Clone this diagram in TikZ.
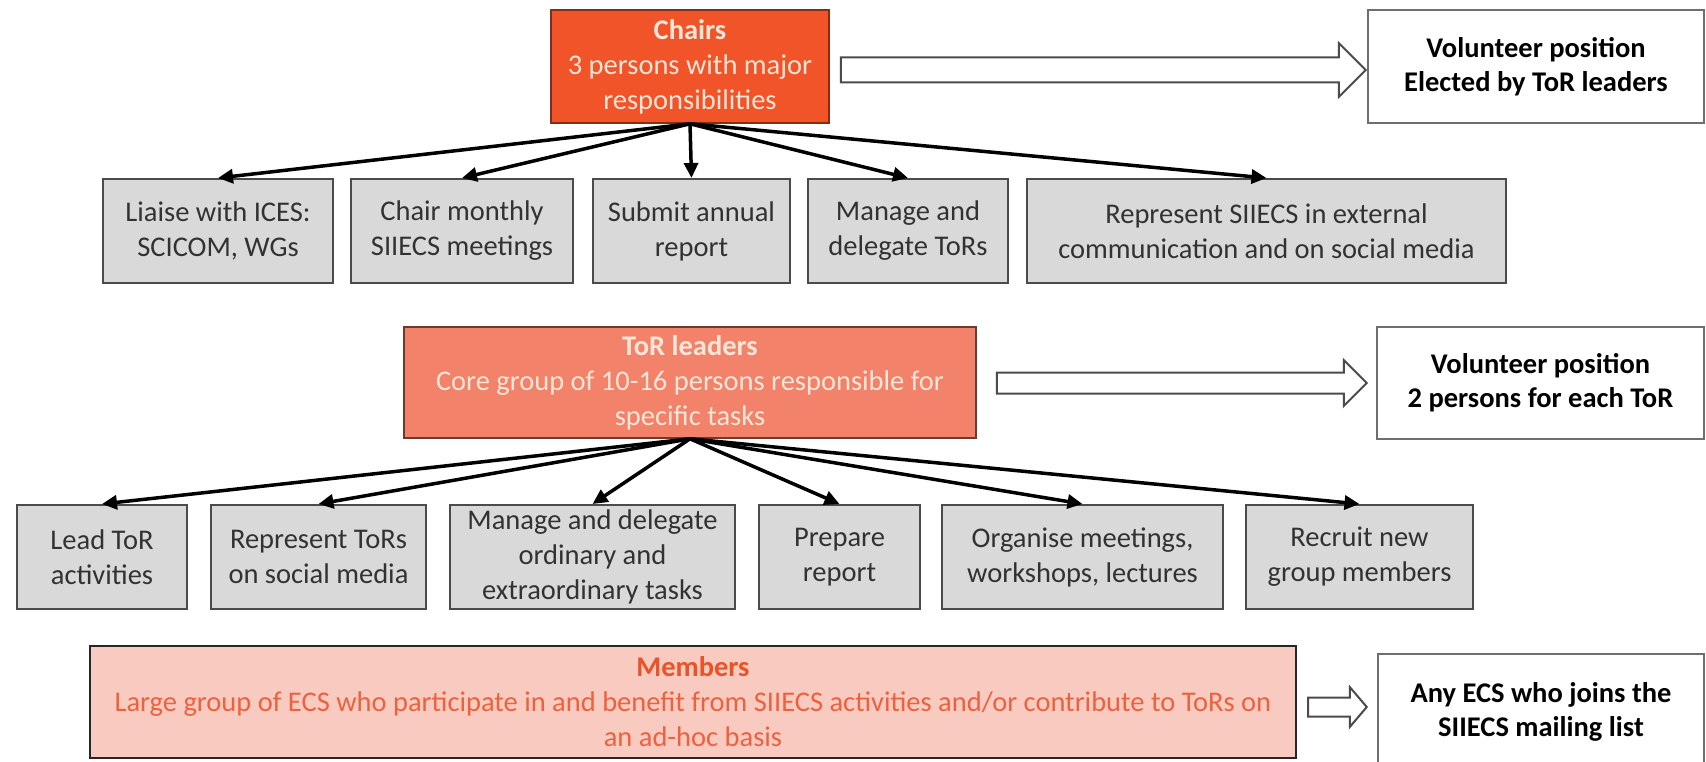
\documentclass[tikz,border=0pt]{standalone}
\usepackage{fontspec}
\setmainfont{Carlito}
\usetikzlibrary{arrows.meta,calc}
\definecolor{chairfill}{RGB}{240,84,40}
\definecolor{torfill}{RGB}{242,130,106}
\definecolor{memfill}{RGB}{248,202,192}
\definecolor{boxgray}{RGB}{217,217,217}
\definecolor{lighttxt}{RGB}{252,230,216}
\definecolor{memtxt}{RGB}{236,98,62}
\definecolor{memtitle}{RGB}{232,84,40}
\definecolor{edgegray}{RGB}{75,75,75}
\definecolor{infoedge}{RGB}{110,110,110}
\definecolor{tasktxt}{RGB}{50,50,50}
\begin{document}
\begin{tikzpicture}[x=1pt,y=-1pt,
  txt/.style={font=\fontsize{28.5}{35}\selectfont, align=center, inner sep=2pt},
  taskbox/.style={txt, draw=edgegray, line width=2pt, fill=boxgray, text=tasktxt, minimum height=104pt},
  rolebox/.style={txt, line width=1.6pt},
  infobox/.style={align=center, inner sep=2pt, draw=infoedge, line width=2.5pt, fill=white, text=black, font=\fontsize{28.5}{34}\selectfont\bfseries},
  link/.style={-{Triangle[length=15pt,width=14pt]}, line width=3.5pt, black},
  blockarr/.style={draw=edgegray, line width=2pt, fill=white, line join=miter}
]
\useasboundingbox (0,0) rectangle (1706,762);

% Chairs level
\node[rolebox, fill=chairfill, draw=chairfill!55!black, text=lighttxt, minimum width=278pt, minimum height=113pt] (chairs) at (690,66.5) {\textbf{Chairs}\\3 persons with major\\responsibilities};
\node[infobox, minimum width=336pt, minimum height=113pt] (vol1) at (1536,66.5) {Volunteer position\\Elected by ToR leaders};

\node[taskbox, minimum width=230pt] (liaise) at (218,231) {Liaise with ICES:\\SCICOM, WGs};
\node[taskbox, minimum width=222pt] (monthly) at (462,231) {Chair monthly\\SIIECS meetings};
\node[taskbox, minimum width=197pt] (annual) at (691.5,231) {Submit annual\\report};
\node[taskbox, minimum width=200pt] (delegate) at (908,231) {Manage and\\delegate ToRs};
\node[taskbox, minimum width=479pt] (external) at (1266.5,231) {Represent SIIECS in external\\communication and on social media};

% ToR level
\node[rolebox, fill=torfill, draw=torfill!45!black, text=lighttxt, minimum width=572pt, minimum height=111pt] (tor) at (690,382.5) {\textbf{ToR leaders}\\Core group of 10-16 persons responsible for\\specific tasks};
\node[infobox, minimum width=327pt, minimum height=112pt] (vol2) at (1540.5,383) {Volunteer position\\2 persons for each ToR};

\node[taskbox, minimum width=170pt] (lead) at (102,557) {Lead ToR\\activities};
\node[taskbox, minimum width=215pt] (reprtor) at (318.5,557) {Represent ToRs\\on social media};
\node[taskbox, minimum width=285pt] (tasks) at (592.5,557) {Manage and delegate\\ordinary and\\extraordinary tasks};
\node[taskbox, minimum width=161pt] (report) at (839.5,557) {Prepare\\report};
\node[taskbox, minimum width=281pt] (events) at (1082.5,557) {Organise meetings,\\workshops, lectures};
\node[taskbox, minimum width=227pt] (recruit) at (1359.5,557) {Recruit new\\group members};

% Members level
\node[rolebox, fill=memfill, draw=black!85, line width=2pt, text=memtxt, minimum width=1206pt, minimum height=112pt] (members) at (693,702) {\textcolor{memtitle}{\textbf{Members}}\\Large group of ECS who participate in and benefit from SIIECS activities and/or contribute to ToRs on\\an ad-hoc basis};
\node[infobox, minimum width=326pt, minimum height=116pt] (anyecs) at (1541,712) {Any ECS who joins the\\SIIECS mailing list};

% connectors
\foreach \t in {liaise,monthly,annual,delegate,external}
  \draw[link] (chairs.south) -- (\t.north);
\foreach \t in {lead,reprtor,tasks,report,events,recruit}
  \draw[link] (tor.south) -- (\t.north);

% block arrows
\coordinate (b1s) at ($(chairs.east)+(11,3.5)$);
\coordinate (b1t) at ($(vol1.west)+(-1,3.5)$);
\draw[blockarr] ($(b1s)+(0,-12.5)$) -- ($(b1t)+(-27,-12.5)$) -- ($(b1t)+(-27,-27)$) -- (b1t)
  -- ($(b1t)+(-27,27)$) -- ($(b1t)+(-27,12.5)$) -- ($(b1s)+(0,12.5)$) -- cycle;

\coordinate (b2s) at ($(tor.east)+(20,0.5)$);
\coordinate (b2t) at ($(vol2.west)+(-9,0)$);
\draw[blockarr] ($(b2s)+(0,-10.5)$) -- ($(b2t)+(-23,-10.5)$) -- ($(b2t)+(-23,-23)$) -- (b2t)
  -- ($(b2t)+(-23,23)$) -- ($(b2t)+(-23,10.5)$) -- ($(b2s)+(0,10.5)$) -- cycle;

\coordinate (b3s) at ($(members.east)+(11,5)$);
\coordinate (b3t) at ($(anyecs.west)+(-10,-5)$);
\draw[blockarr] ($(b3s)+(0,-9.5)$) -- ($(b3t)+(-17,-9.5)$) -- ($(b3t)+(-17,-20)$) -- (b3t)
  -- ($(b3t)+(-17,20)$) -- ($(b3t)+(-17,9.5)$) -- ($(b3s)+(0,9.5)$) -- cycle;
\end{tikzpicture}
\end{document}
